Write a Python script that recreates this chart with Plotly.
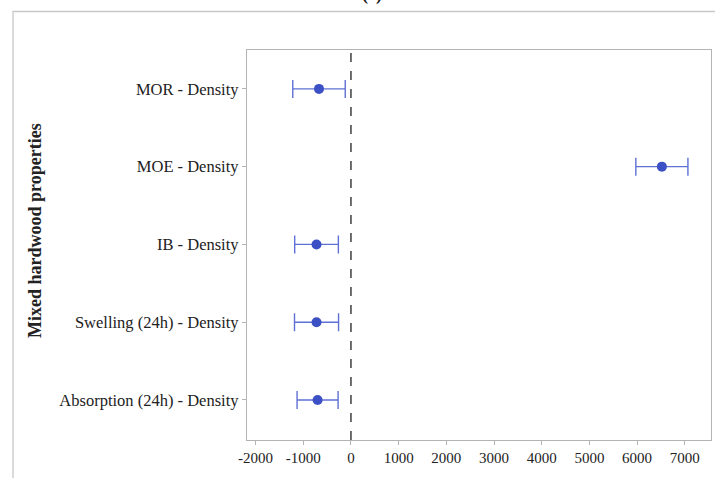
import plotly.graph_objects as go

# Property pairs (bottom to top) and their estimated differences with interval half-widths
pairs = [
    "Absorption (24h) - Density",
    "Swelling (24h) - Density",
    "IB - Density",
    "MOE - Density",
    "MOR - Density",
]
estimates = [-700, -722, -722, 6520, -670]
half_widths = [430, 462, 458, 546, 550]

x_ticks = [-2000, -1000, 0, 1000, 2000, 3000, 4000, 5000, 6000, 7000]

W, H = 715, 478
ML, MR, MT, MB = 247, 4, 50, 38
pw, ph = W - ML - MR, H - MT - MB

def px_to_paper_x(px):
    return (px - ML) / pw

def px_to_paper_y(py):
    return (H - MB - py) / ph

serif = "Liberation Serif, Times New Roman, serif"

fig = go.Figure()
fig.add_trace(go.Scatter(
    x=estimates,
    y=pairs,
    mode="markers",
    marker=dict(color="#3b50c4", size=10),
    error_x=dict(type="data", array=half_widths, symmetric=True,
                 color="#5f70d4", thickness=1.4, width=9),
    showlegend=False,
))

# Reference line at zero difference
fig.add_shape(type="line", xref="x", yref="paper", x0=0, x1=0, y0=0, y1=1,
              line=dict(color="#222222", width=1.3, dash="dash"))

# Outer panel frame
fig.add_shape(type="rect", xref="paper", yref="paper",
              x0=px_to_paper_x(13), x1=px_to_paper_x(730),
              y0=px_to_paper_y(495), y1=px_to_paper_y(11.5),
              line=dict(color="#c8c8c8", width=1.3), layer="below")

# Panel label at the top edge
fig.add_annotation(text="<b>(c)</b>", xref="paper", yref="paper",
                   x=px_to_paper_x(372), y=px_to_paper_y(7),
                   xanchor="center", yanchor="bottom", showarrow=False,
                   font=dict(family=serif, size=18, color="#222"))

# Vertical axis title
fig.add_annotation(text="<b>Mixed hardwood properties</b>", xref="paper", yref="paper",
                   x=px_to_paper_x(35), y=px_to_paper_y(231),
                   xanchor="center", yanchor="middle", textangle=-90, showarrow=False,
                   font=dict(family=serif, size=18, color="#222"))

fig.update_xaxes(
    range=[-2180, 7550],
    tickvals=x_ticks,
    ticktext=[str(v) for v in x_ticks],
    showgrid=False, zeroline=False,
    showline=True, mirror=True, linecolor="#b4b4b4", linewidth=1.3,
    ticks="outside", ticklen=4, tickcolor="#b4b4b4",
    tickfont=dict(family=serif, size=15, color="#222"),
)
fig.update_yaxes(
    type="category",
    categoryorder="array", categoryarray=pairs,
    range=[-0.515, 4.50],
    showgrid=False, zeroline=False,
    showline=True, mirror=True, linecolor="#b4b4b4", linewidth=1.3,
    ticks="outside", ticklen=4, tickcolor="#b4b4b4",
    tickfont=dict(family=serif, size=16.5, color="#222"),
)

fig.update_layout(
    width=W, height=H,
    margin=dict(l=ML, r=MR, t=MT, b=MB),
    paper_bgcolor="white", plot_bgcolor="white",
)

fig.write_html("out.html")
